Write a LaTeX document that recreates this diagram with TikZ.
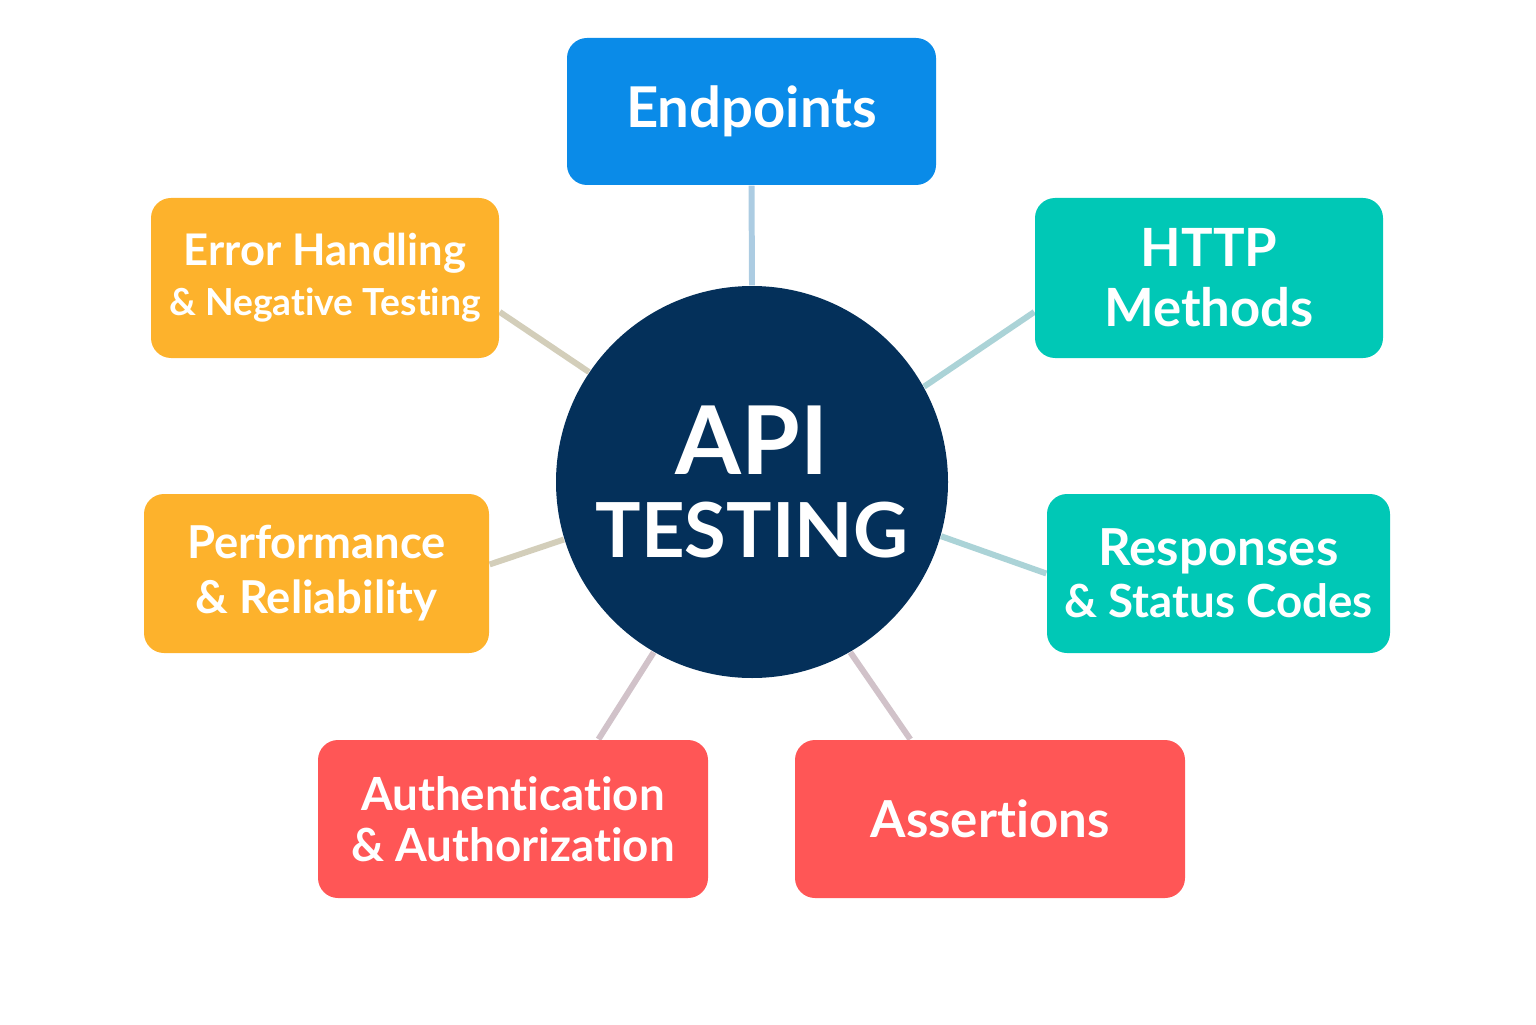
\documentclass[tikz,border=0pt]{standalone}
\usepackage{fontspec}
\setmainfont{Lato}[Ligatures=NoCommon]
\usetikzlibrary{backgrounds}
\definecolor{epblue}{HTML}{0A8BE8}
\definecolor{tealbox}{HTML}{00C8B6}
\definecolor{redbox}{HTML}{FF5656}
\definecolor{orangebox}{HTML}{FDB22C}
\definecolor{navyhub}{HTML}{04305A}
\definecolor{linkgray}{HTML}{C9D5DD}

\begin{document}
\begin{tikzpicture}[
    box/.style={rounded corners=0.2cm, text=white, align=center, inner sep=0pt},
    hub/.style={circle, fill=navyhub, text=white, align=center, minimum size=3.92cm, inner sep=-0.4cm},
    link/.style={line width=1.7pt}
  ]
  \useasboundingbox (0,0) rectangle (15.36,10.24);

  % centre
  \node[hub, font=\bfseries\fontsize{27}{23.5}\selectfont] (api) at (7.52,5.42)
    {API\\{\fontsize{21.6}{23.5}\selectfont TESTING}};

  % topics
  \node[box, fill=epblue, minimum width=3.69cm, minimum height=1.47cm,
        font=\bfseries\fontsize{16}{19}\selectfont] (endp) at (7.515,9.125) {Endpoints};
  \node[box, fill=tealbox, minimum width=3.48cm, minimum height=1.60cm,
        font=\bfseries\fontsize{15}{17}\selectfont] (http) at (12.09,7.46) {HTTP\\ Methods};
  \node[box, fill=tealbox, minimum width=3.43cm, minimum height=1.59cm,
        font=\bfseries\fontsize{14.5}{14.8}\selectfont] (resp) at (12.185,4.505)
    {Responses\\ {\fontsize{13}{14.8}\selectfont \& Status Codes}};
  \node[box, fill=redbox, minimum width=3.90cm, minimum height=1.58cm,
        font=\bfseries\fontsize{14.5}{17}\selectfont] (assert) at (9.90,2.05) {Assertions};
  \node[box, fill=redbox, minimum width=3.90cm, minimum height=1.58cm,
        font=\bfseries\fontsize{13}{14.5}\selectfont] (auth) at (5.13,2.05) {Authentication\\ \& Authorization};
  \node[box, fill=orangebox, minimum width=3.45cm, minimum height=1.59cm,
        font=\bfseries\fontsize{12.9}{15.6}\selectfont] (perf) at (3.165,4.505) {Performance\\ \& Reliability};
  \node[box, fill=orangebox, minimum width=3.48cm, minimum height=1.60cm,
        font=\bfseries\fontsize{12.4}{14.2}\selectfont] (err) at (3.25,7.46)
    {Error Handling\\ {\fontsize{10.6}{14.2}\selectfont \& Negative Testing}};

  % links
  \begin{scope}[on background layer]
    \draw[link, linkgray!80!epblue!90] (api.north) -- (endp.south);
    \draw[link, linkgray!85!tealbox] (api.29) -- (http.191);
    \draw[link, linkgray!85!tealbox] (api.-16) -- (resp.west);
    \draw[link, linkgray!85!redbox] (api.-60) -- (assert.135);
    \draw[link, linkgray!85!redbox] (api.240) -- (auth.43);
    \draw[link, linkgray!80!orangebox] (api.197) -- (perf.3);
    \draw[link, linkgray!80!orangebox] (api.146) -- (err.-11);
  \end{scope}
\end{tikzpicture}
\end{document}
